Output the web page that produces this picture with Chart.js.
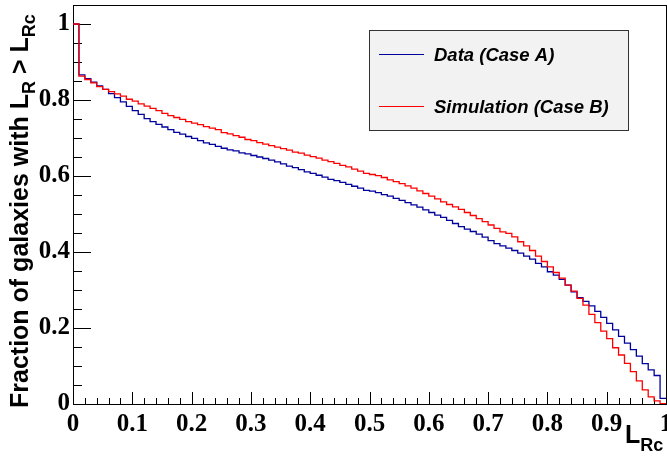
<!DOCTYPE html>
<html>
<head>
<meta charset="utf-8">
<script src="https://cdn.jsdelivr.net/npm/chart.js@4.4.0/dist/chart.umd.min.js"></script>
<style>
html, body { margin: 0; padding: 0; background: #fff; overflow: hidden; }
#wrap { width: 680px; height: 457px; }
</style>
</head>
<body>
<div id="wrap"><canvas id="chart" width="680" height="457"></canvas></div>
<script>
// histogram range, 100 bins of 0.01
const xMin = 0, xMax = 1;

// cumulative fraction per bin
const dataCaseA = [
    1.000,
    0.866, 0.856, 0.847, 0.837, 0.828, 0.817, 0.806, 0.795, 0.783, 0.772, 0.762, 0.751,
    0.743, 0.736, 0.729, 0.722, 0.715, 0.710, 0.704, 0.699, 0.693, 0.687, 0.683, 0.678,
    0.673, 0.669, 0.666, 0.661, 0.658, 0.654, 0.650, 0.646, 0.642, 0.637, 0.632, 0.626,
    0.622, 0.617, 0.611, 0.607, 0.602, 0.597, 0.591, 0.588, 0.583, 0.578, 0.573, 0.568,
    0.562, 0.560, 0.556, 0.551, 0.547, 0.541, 0.536, 0.530, 0.524, 0.518, 0.511, 0.504,
    0.497, 0.491, 0.483, 0.475, 0.467, 0.460, 0.454, 0.447, 0.439, 0.430, 0.422, 0.416,
    0.410, 0.404, 0.397, 0.389, 0.381, 0.370, 0.361, 0.348, 0.339, 0.328, 0.313, 0.295,
    0.280, 0.270,
    0.258, 0.244, 0.228, 0.212, 0.195, 0.178, 0.160, 0.143, 0.126, 0.106, 0.090, 0.075, 0.015
];

const simCaseB = [
    1.000,
    0.863, 0.854, 0.845, 0.835, 0.828, 0.822, 0.816, 0.810, 0.802, 0.797, 0.790, 0.784,
    0.778, 0.772, 0.765, 0.759, 0.754, 0.749, 0.743, 0.739, 0.735, 0.730, 0.726, 0.722,
    0.714, 0.711, 0.706, 0.702, 0.696, 0.693, 0.688, 0.684, 0.680, 0.676, 0.672, 0.668,
    0.663, 0.660, 0.655, 0.651, 0.647, 0.642, 0.638, 0.633, 0.628, 0.624, 0.618, 0.613,
    0.607, 0.604, 0.601, 0.596, 0.590, 0.585, 0.580, 0.574, 0.568, 0.561, 0.554, 0.547,
    0.540, 0.532, 0.525, 0.519, 0.512, 0.504, 0.496, 0.488, 0.480, 0.471, 0.462, 0.453,
    0.449, 0.440, 0.427, 0.416, 0.404, 0.389, 0.375, 0.361, 0.346, 0.331, 0.313, 0.297,
    0.278, 0.260,
    0.236, 0.214, 0.192, 0.172, 0.148, 0.129, 0.107, 0.085, 0.061, 0.037, 0.019, 0.008, 0.001
];

const seriesNames = ['Data (Case A)', 'Simulation (Case B)'];

const xTicks = [0, 0.1, 0.2, 0.3, 0.4, 0.5, 0.6, 0.7, 0.8, 0.9, 1];
const xTickLabels = ['0', '0.1', '0.2', '0.3', '0.4', '0.5', '0.6', '0.7', '0.8', '0.9', '1'];
const yTicks = [0, 0.2, 0.4, 0.6, 0.8, 1];
const yTickLabels = ['0', '0.2', '0.4', '0.6', '0.8', '1'];
const xMinorStep = 0.02;
const yMinorStep = 0.05;
const yMax = 1.05;

function histPoints(values) {
    const w = (xMax - xMin) / values.length;
    const pts = values.map((v, i) => ({ x: xMin + i * w, y: v }));
    pts.push({ x: xMax, y: values[values.length - 1] });
    return pts;
}

function drawRich(ctx, parts, x, y) {
    parts.forEach(p => {
        ctx.font = 'bold ' + p.size + 'px "Liberation Sans"';
        ctx.fillText(p.text, x, y + (p.dy || 0));
        x += ctx.measureText(p.text).width;
    });
}

// frame and inward ROOT-style ticks
const framePlugin = {
    id: 'frame',
    beforeDatasetsDraw(chart) {
        const ctx = chart.ctx;
        const a = chart.chartArea;
        const xs = chart.scales.x, ys = chart.scales.y;
        ctx.save();
        ctx.strokeStyle = '#000';
        ctx.lineWidth = 1;
        ctx.beginPath();
        for (let v = xMin; v <= xMax + 1e-9; v += xMinorStep) {
            const px = Math.round(xs.getPixelForValue(v)) + 0.5;
            const major = xTicks.some(t => Math.abs(t - v) < 1e-6);
            ctx.moveTo(px, a.bottom);
            ctx.lineTo(px, a.bottom - (major ? 12 : 6));
        }
        for (let v = 0; v <= 1 + 1e-9; v += yMinorStep) {
            const py = Math.round(ys.getPixelForValue(v)) + 0.5;
            const major = yTicks.some(t => Math.abs(t - v) < 1e-6);
            ctx.moveTo(a.left, py);
            ctx.lineTo(a.left + (major ? 18 : 9), py);
        }
        ctx.stroke();
        ctx.strokeRect(Math.round(a.left) + 0.5, Math.round(a.top) + 0.5,
            Math.round(a.right - a.left), Math.round(a.bottom - a.top));
        ctx.restore();
    },
    afterDraw(chart) {
        const ctx = chart.ctx;
        ctx.save();
        ctx.fillStyle = '#000';
        ctx.textBaseline = 'alphabetic';
        // y title
        ctx.save();
        ctx.translate(28, 408);
        ctx.rotate(-Math.PI / 2);
        drawRich(ctx, [
            { text: 'Fraction of galaxies with L', size: 25 },
            { text: 'R', size: 18, dy: 7 },
            { text: ' > L', size: 25 },
            { text: 'Rc', size: 18, dy: 7 }
        ], 0, 0);
        ctx.restore();
        // x title
        drawRich(ctx, [
            { text: 'L', size: 25 },
            { text: 'Rc', size: 18, dy: 8 }
        ], 625, 443);

        // legend box
        ctx.fillStyle = '#f2f2f2';
        ctx.fillRect(369, 30, 259, 100);
        ctx.strokeStyle = '#333';
        ctx.lineWidth = 1;
        ctx.strokeRect(369.5, 30.5, 259, 100);
        const rows = [54, 106];
        chart.data.datasets.forEach((ds, i) => {
            ctx.strokeStyle = ds.borderColor;
            ctx.beginPath();
            ctx.moveTo(379, rows[i] + 0.5);
            ctx.lineTo(424, rows[i] + 0.5);
            ctx.stroke();
            ctx.fillStyle = '#000';
            ctx.font = 'italic bold 18.5px "Liberation Sans"';
            ctx.fillText(ds.label, 434, rows[i] + 7);
        });
        ctx.restore();
    }
};

const tickFont = { family: 'Liberation Serif', weight: 'bold', size: 25 };

new Chart(document.getElementById('chart'), {
    type: 'line',
    data: {
        datasets: [
            {
                label: seriesNames[0],
                data: histPoints(dataCaseA),
                borderColor: '#00009c',
                borderWidth: 1.3,
                stepped: 'before',
                pointRadius: 0,
                fill: false,
                order: 1
            },
            {
                label: seriesNames[1],
                data: histPoints(simCaseB),
                borderColor: '#ff0000',
                borderWidth: 1.3,
                stepped: 'before',
                pointRadius: 0,
                fill: false,
                order: 0
            }
        ]
    },
    options: {
        responsive: false,
        animation: false,
        devicePixelRatio: 1,
        layout: { padding: { left: 39, right: 14, top: 5, bottom: 18 } },
        plugins: { legend: { display: false }, tooltip: { enabled: false } },
        scales: {
            x: {
                type: 'linear',
                min: xMin,
                max: xMax,
                afterBuildTicks: s => { s.ticks = xTicks.map(v => ({ value: v })); },
                afterFit: s => { s.height = 35; s.paddingLeft = 0; s.paddingRight = 0; },
                ticks: {
                    font: tickFont,
                    color: '#000',
                    padding: 6,
                    maxRotation: 0,
                    autoSkip: false,
                    callback: (v, i) => xTickLabels[i]
                },
                grid: { display: false, drawTicks: false },
                border: { display: false }
            },
            y: {
                type: 'linear',
                min: 0,
                max: yMax,
                afterBuildTicks: s => { s.ticks = yTicks.map(v => ({ value: v })); },
                afterFit: s => { s.width = 34; s.paddingTop = 0; s.paddingBottom = 0; },
                ticks: {
                    font: tickFont,
                    color: '#000',
                    padding: 3,
                    autoSkip: false,
                    callback: (v, i) => yTickLabels[i]
                },
                grid: { display: false, drawTicks: false },
                border: { display: false }
            }
        }
    },
    plugins: [framePlugin]
});
</script>
</body>
</html>
